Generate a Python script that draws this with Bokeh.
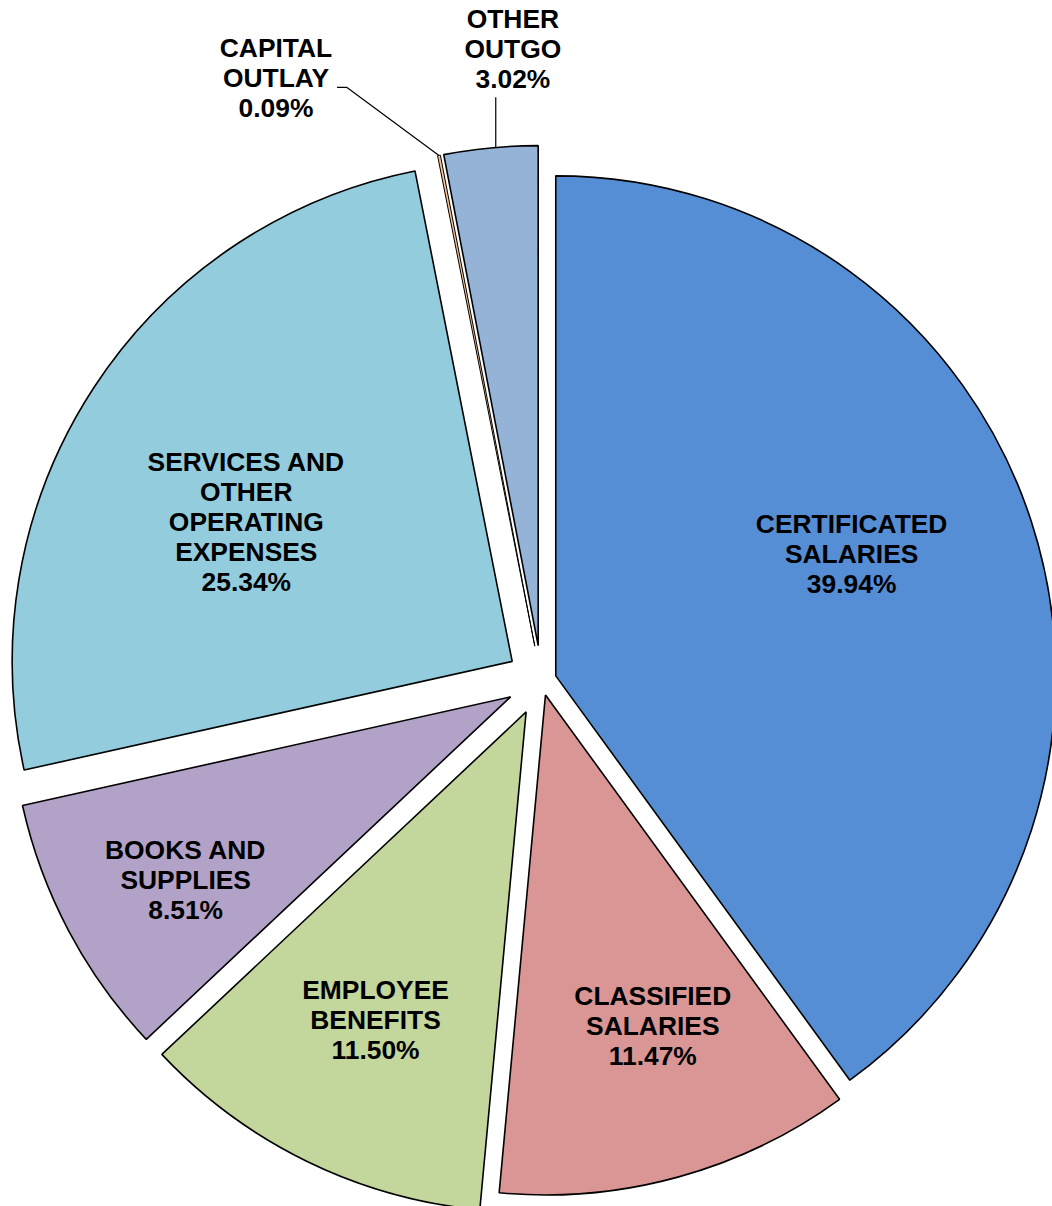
import math
from bokeh.plotting import figure
from bokeh.models import Range1d, ColumnDataSource
from bokeh.core.properties import value
from bokeh.embed import file_html
from bokeh.resources import INLINE

# ---- data ----
categories = ["CERTIFICATED\nSALARIES", "CLASSIFIED\nSALARIES", "EMPLOYEE\nBENEFITS",
              "BOOKS AND\nSUPPLIES", "SERVICES AND\nOTHER\nOPERATING\nEXPENSES",
              "CAPITAL\nOUTLAY", "OTHER\nOUTGO"]
percents = [39.94, 11.47, 11.50, 8.51, 25.34, 0.09, 3.02]

# ---- style ----
colors = ["#558ED5", "#D99694", "#C3D69B", "#B3A2C7", "#93CDDD", "#FAC090", "#95B3D7"]
line_widths = [1.6, 1.6, 1.6, 1.6, 1.6, 1.0, 1.6]
explode = [15, 15, 35, 35, 35, 35, 35]
label_dist = [335, 363, 378, 408, 335, 658, 632]
label_rot = [-4.2, -2.5, 0.0, -1.4, -4.9, -12.75, 2.85]   # degrees offset from bisector (clockwise)
R = 500
W, H = 1052, 1206
cx, cy = 541, H - 680   # pie center in plot pixels (data units)

p = figure(width=W, height=H, output_backend="svg", toolbar_location=None,
           x_range=Range1d(0, W), y_range=Range1d(0, H),
           min_border=0, background_fill_color="white", border_fill_color="white")
p.axis.visible = False
p.grid.visible = False
p.outline_line_color = None

total = sum(percents)
cum = 0.0
xs, ys, sa, ea, mids = [], [], [], [], []
for v, d in zip(percents, explode):
    f0 = cum / total
    f1 = (cum + v) / total
    cum += v
    a0 = math.pi / 2 - 2 * math.pi * f0
    a1 = math.pi / 2 - 2 * math.pi * f1
    m = (a0 + a1) / 2
    mids.append(m)
    xs.append(cx + d * math.cos(m))
    ys.append(cy + d * math.sin(m))
    sa.append(a0)
    ea.append(a1)

src = ColumnDataSource(dict(x=xs, y=ys, start=sa, end=ea, color=colors, lw=line_widths))
p.wedge(x="x", y="y", radius=R, start_angle="start", end_angle="end", direction="clock",
        fill_color="color", line_color="black", line_width="lw", source=src)

# labels
lx, ly, lt = [], [], []
for i, (cat, v) in enumerate(zip(categories, percents)):
    m = mids[i] - math.radians(label_rot[i])
    lx.append(cx + label_dist[i] * math.cos(m))
    ly.append(cy + label_dist[i] * math.sin(m))
    lt.append(f"{cat}\n{v:.2f}%")

p.text(x=lx, y=ly, text=lt, text_align="center", text_baseline="middle",
       text_font=value("Liberation Sans"), text_font_style="bold",
       text_font_size="26.4px", text_color="black", text_line_height=1.0)

# leader lines for outside labels
# capital outlay (index 5)
i = 5
axp = xs[i] + R * math.cos(mids[i])
ayp = ys[i] + R * math.sin(mids[i])
ex, ey = lx[i] + 71, ly[i] - 9
p.line([axp, ex, ex - 10], [ayp, ey, ey], line_color="black", line_width=1.2)
# other outgo (index 6)
i = 6
axp = xs[i] + R * math.cos(mids[i])
ayp = ys[i] + R * math.sin(mids[i])
p.line([axp + 5, axp + 5], [ayp + 1, ly[i] - 48], line_color="black", line_width=1.2)

open("out.html", "w").write(file_html(p, INLINE))
